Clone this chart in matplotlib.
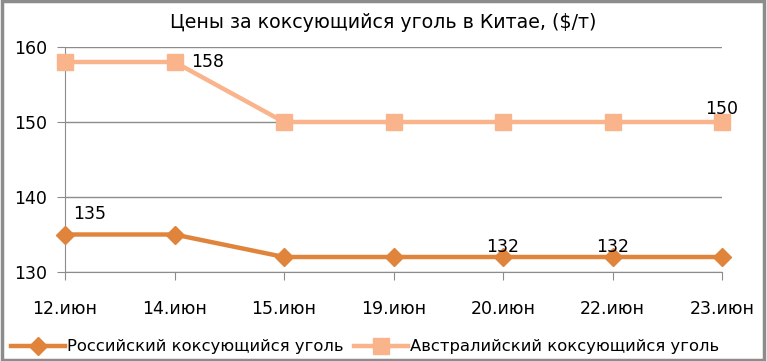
import matplotlib
matplotlib.use("Agg")
import matplotlib.pyplot as plt
from matplotlib.patches import Rectangle

plt.rcParams["font.family"] = ["DejaVu Sans"]

dates = ["12.июн", "14.июн", "15.июн", "19.июн", "20.июн", "22.июн", "23.июн"]
russian = [135, 135, 132, 132, 132, 132, 132]
australian = [158, 158, 150, 150, 150, 150, 150]
y_ticks = [130, 140, 150, 160]

RUS_COLOR = "#E0843C"
AUS_COLOR = "#F9B48C"
GRID = "#8C8C8C"

W, H = 767, 361
fig = plt.figure(figsize=(W / 100, H / 100), dpi=100)
ax = fig.add_axes([65 / W, 1 - 272 / H, (722 - 65) / W, (272 - 47) / H])

x = list(range(len(dates)))
ax.plot(x, russian, color=RUS_COLOR, lw=3.2, marker="D", ms=9,
        label="Российский коксующийся уголь", zorder=3, clip_on=False)
ax.plot(x, australian, color=AUS_COLOR, lw=3.2, marker="s", ms=11,
        label="Австралийский коксующийся уголь", zorder=3, clip_on=False)

ax.set_xlim(0, len(dates) - 1)
ax.set_ylim(130, 160)
ax.set_yticks(y_ticks)
ax.set_xticks(x)
ax.set_xticklabels(dates)
ax.grid(axis="y", color=GRID, lw=1)
ax.set_axisbelow(True)
for s in ["top", "right"]:
    ax.spines[s].set_visible(False)
for s in ["left", "bottom"]:
    ax.spines[s].set_color(GRID)
ax.tick_params(axis="x", length=6, color=GRID, labelsize=12.5, pad=14)
ax.tick_params(axis="y", length=6, color=GRID, labelsize=12.5, pad=7)

# data labels
lab = dict(fontsize=12.5, color="black", zorder=5)
ax.annotate(str(australian[1]), (x[1], australian[1]), xytext=(12, 0),
            textcoords="offset points", ha="left", va="center", **lab)
ax.annotate(str(australian[6]), (x[6], australian[6]), xytext=(0, 3),
            textcoords="offset points", ha="center", va="bottom", **lab)
ax.annotate(str(russian[0]), (x[0], russian[0]), xytext=(6, 8),
            textcoords="offset points", ha="left", va="bottom", **lab)
for i in (4, 5):
    ax.annotate(str(russian[i]), (x[i], russian[i]), xytext=(0, 1),
                textcoords="offset points", ha="center", va="bottom", **lab)

fig.text(0.5, 1 - 22 / H, "Цены за коксующийся уголь в Китае, ($/т)",
         ha="center", va="center", fontsize=13.7)

fig.legend(loc="center", bbox_to_anchor=(0.476, 1 - 347 / H), ncol=2,
           frameon=False, fontsize=11.8, handlelength=3.3, columnspacing=0.6,
           handletextpad=0.12)

fig.patches.append(Rectangle((0.002, 0.003), 0.994, 0.994, transform=fig.transFigure,
                             fill=False, edgecolor="#8C8C8C", lw=2.5))

fig.savefig("out.png", dpi=100)
